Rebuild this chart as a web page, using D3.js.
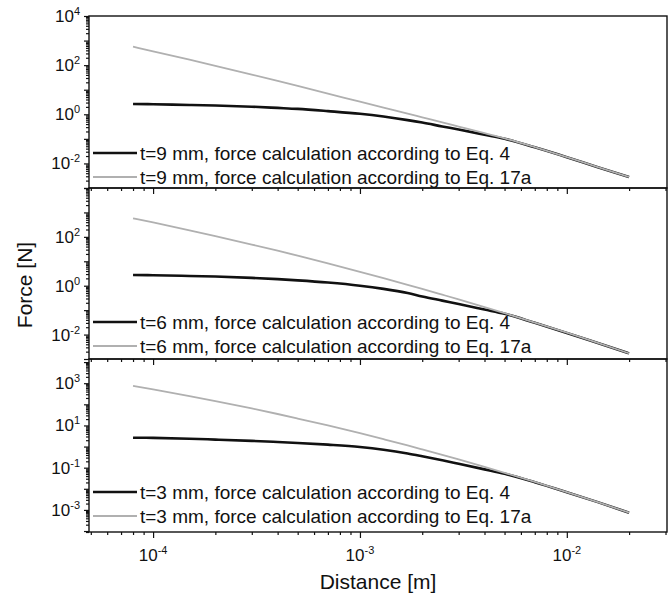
<!DOCTYPE html>
<html>
<head>
<meta charset="utf-8">
<script src="https://cdn.jsdelivr.net/npm/d3@7"></script>
<style>
  body { margin: 0; background: #fff; }
  svg text { font-family: "Liberation Sans", Arial, sans-serif; fill: #111; }
</style>
</head>
<body>
<div id="chart"></div>
<script>
// distances [m] shared by every curve
const distance = [8e-5, 1e-4, 1.5e-4, 2e-4, 3e-4, 4e-4, 5e-4, 7e-4, 1e-3, 1.3e-3,
                  1.7e-3, 2e-3, 2.5e-3, 3e-3, 4e-3, 5e-3, 7e-3, 1e-2, 1.4e-2, 2e-2]

// force [N]
const t9eq4  = [2.63, 2.57, 2.40, 2.29, 2.04, 1.82, 1.66, 1.35, 1.05, 0.81,
                0.58, 0.46, 0.32, 0.24, 0.148, 0.101, 0.0452, 0.018, 0.0072, 0.0028]
const t9eq17 = [562, 366, 166, 94, 41.3, 22.8, 14.3, 7.0, 3.24, 1.86,
                1.06, 0.75, 0.468, 0.316, 0.17, 0.105, 0.046, 0.0182, 0.0073, 0.0028]
const t6eq4  = [2.75, 2.69, 2.51, 2.37, 2.09, 1.86, 1.66, 1.35, 1.0, 0.74,
                0.50, 0.363, 0.245, 0.178, 0.106, 0.0708, 0.0302, 0.0117, 0.0046, 0.0017]
const t6eq17 = [575, 389, 186, 108, 48.5, 27.0, 16.9, 8.2, 3.72, 2.04,
                1.09, 0.74, 0.43, 0.275, 0.133, 0.075, 0.031, 0.0119, 0.0047, 0.0017]
const t3eq4  = [2.63, 2.57, 2.34, 2.14, 1.86, 1.64, 1.48, 1.23, 0.955, 0.71,
                0.47, 0.347, 0.224, 0.153, 0.083, 0.0513, 0.0204, 0.0069, 0.0024, 0.00074]
const t3eq17 = [741, 508, 247, 143, 63.7, 34.8, 21.3, 9.96, 4.27, 2.23,
                1.13, 0.736, 0.405, 0.245, 0.109, 0.0573, 0.0211, 0.0070, 0.0024, 0.00074]

const thickness = ["t=9 mm", "t=6 mm", "t=3 mm"]
const legendTail = [", force calculation according to Eq. 4", ", force calculation according to Eq. 17a"]
const yTickExp = [[4, 2, 0, -2], [2, 0, -2], [3, 1, -1, -3]]
const xTickExp = [-4, -3, -2]

const width = 670, height = 602
const left = 89, right = 667

const svg = d3.select("#chart")
  .append("svg")
    .attr("width", width)
    .attr("height", height)

const x = d3.scaleLog().domain([4.9e-5, 3.05e-2]).range([left, right])

const panels = [
  { top: 16,  bottom: 188, domain: [1e-3, 1e4],   eq4: t9eq4, eq17: t9eq17, legendY: [153, 177] },
  { top: 188, bottom: 359, domain: [1e-3, 1e4],   eq4: t6eq4, eq17: t6eq17, legendY: [322, 346] },
  { top: 359, bottom: 532, domain: [9e-5, 1.4e4], eq4: t3eq4, eq17: t3eq17, legendY: [492, 516] }
]

// minor ticks 2..9 of every decade inside a domain
function minorTicks(domain) {
  const out = []
  for (let e = Math.floor(Math.log10(domain[0])); e <= Math.ceil(Math.log10(domain[1])); e++) {
    for (let k = 2; k <= 9; k++) {
      const v = k * Math.pow(10, e)
      if (v >= domain[0] && v <= domain[1]) out.push(v)
    }
  }
  return out
}
function majorTicks(domain) {
  const out = []
  for (let e = Math.ceil(Math.log10(domain[0]) - 1e-9); e <= Math.floor(Math.log10(domain[1]) + 1e-9); e++) out.push(Math.pow(10, e))
  return out
}

function powerLabel(sel, exp, size) {
  sel.append("tspan").text("10").attr("font-size", size)
  sel.append("tspan").text(exp).attr("font-size", 11).attr("dy", -7)
}

panels.forEach((p, i) => {
  const y = d3.scaleLog().domain(p.domain).range([p.bottom, p.top])
  const g = svg.append("g")

  // y ticks
  g.append("g")
    .attr("transform", `translate(${left},0)`)
    .call(d3.axisLeft(y).tickValues(majorTicks(p.domain)).tickSize(5).tickFormat(""))
  g.append("g")
    .attr("transform", `translate(${left},0)`)
    .call(d3.axisLeft(y).tickValues(minorTicks(p.domain)).tickSize(3).tickFormat(""))

  // x ticks on the bottom edge of each panel
  g.append("g")
    .attr("transform", `translate(0,${p.bottom})`)
    .call(d3.axisBottom(x).tickValues(majorTicks(x.domain())).tickSize(6).tickFormat(""))
  g.append("g")
    .attr("transform", `translate(0,${p.bottom})`)
    .call(d3.axisBottom(x).tickValues(minorTicks(x.domain())).tickSize(3).tickFormat(""))

  g.selectAll(".domain").remove()
  g.selectAll(".tick line").attr("stroke", "#111").attr("stroke-width", 1.2)

  // y tick labels
  yTickExp[i].forEach(e => {
    const t = g.append("text")
      .attr("x", 80)
      .attr("y", y(Math.pow(10, e)) + 6)
      .attr("text-anchor", "end")
    powerLabel(t, e, 17)
  })

  // frame
  g.append("rect")
    .attr("x", left).attr("y", p.top)
    .attr("width", right - left).attr("height", p.bottom - p.top)
    .attr("fill", "none").attr("stroke", "#111").attr("stroke-width", 1.4)

  const line = data => d3.line()
    .x((d, j) => x(distance[j]))
    .y(d => y(d))
    .curve(d3.curveMonotoneX)(data)

  // black first, the grey one ends up on top where they meet
  g.append("path").attr("d", line(p.eq4))
    .attr("fill", "none").attr("stroke", "#111").attr("stroke-width", 2.6)
  g.append("path").attr("d", line(p.eq17))
    .attr("fill", "none").attr("stroke", "#b0b0b0").attr("stroke-width", 1.8)

  // legend
  const colors = ["#111", "#b0b0b0"]
  const widths = [2.6, 2]
  p.legendY.forEach((ly, k) => {
    g.append("line")
      .attr("x1", 93).attr("x2", 137).attr("y1", ly).attr("y2", ly)
      .attr("stroke", colors[k]).attr("stroke-width", widths[k])
    g.append("text")
      .attr("x", 140).attr("y", ly + 7)
      .attr("font-size", 19)
      .text(thickness[i] + legendTail[k])
  })
})

// x tick labels
xTickExp.forEach(e => {
  const t = svg.append("text")
    .attr("x", x(Math.pow(10, e)))
    .attr("y", 561)
    .attr("text-anchor", "middle")
  powerLabel(t, e, 17)
})

svg.append("text")
  .attr("x", (left + right) / 2)
  .attr("y", 589)
  .attr("text-anchor", "middle")
  .attr("font-size", 21)
  .text("Distance [m]")

svg.append("text")
  .attr("transform", "translate(32,285) rotate(-90)")
  .attr("text-anchor", "middle")
  .attr("font-size", 21)
  .text("Force [N]")
</script>
</body>
</html>
